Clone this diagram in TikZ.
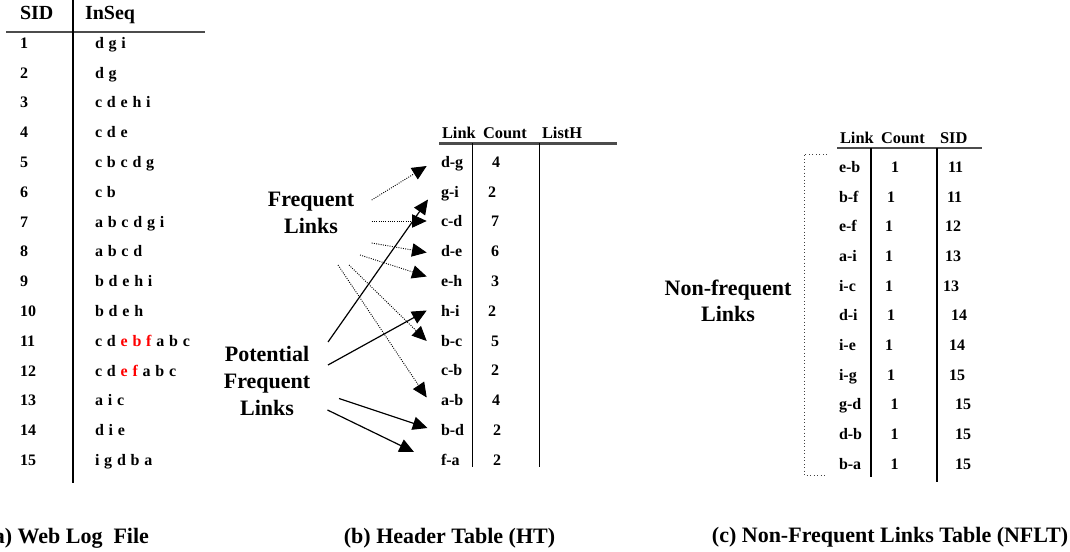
\documentclass[tikz,border=0pt]{standalone}
\usepackage{fontspec}
\setmainfont{Liberation Serif}
\usetikzlibrary{arrows.meta}
\newcommand{\wideseq}[1]{{\spaceskip=3.6pt plus 1pt\relax #1}}

\begin{document}
\begin{tikzpicture}[x=0.75pt,y=-0.75pt,
  every node/.style={inner sep=0pt, outer sep=0pt},
  cell/.style={anchor=west, font=\bfseries\fontsize{12}{14}\selectfont, text height=8pt, text depth=0pt},
  num/.style={anchor=center, font=\bfseries\fontsize{12}{14}\selectfont, text height=8pt, text depth=0pt},
  hdrA/.style={anchor=west, font=\bfseries\fontsize{15}{18}\selectfont, text height=10pt, text depth=0pt},
  hdr/.style={anchor=west, font=\bfseries\fontsize{12.3}{15}\selectfont, text height=8.3pt, text depth=0pt},
  label/.style={align=center, font=\bfseries\fontsize{16.5}{19.9}\selectfont},
  caption/.style={font=\bfseries\fontsize{16.5}{20}\selectfont, text height=11pt, text depth=0pt},
  rule/.style={line width=1.6pt, black!70},
  sep/.style={line width=1pt},
  tip/.style={-{Triangle[length=11pt,width=10pt]}},
  dotarrow/.style={tip, densely dotted, line width=0.7pt},
  solidarrow/.style={tip, line width=0.9pt},
  bracket/.style={dotted, line width=0.6pt, black!75}
]
\useasboundingbox (0,0) rectangle (1070,552);

% ---------- (a) web log file ----------
\node[hdrA] (hsid) at (20,13) {SID};
\node[hdrA] (hseq) at (85,13) {InSeq};
\draw[rule] (6,32) -- (205,32);
\draw[sep] (73,0) -- (73,483);
\foreach \s [count=\i] in {d g i, d g, c d e h i, c d e, c b c d g, c b, a b c d g i, a b c d,
    b d e h i, b d e h, {c d \textcolor{red}{e b f} a b c}, {c d \textcolor{red}{e f} a b c},
    a i c, d i e, i g d b a}{
  \node[cell] (sid\i) at (20,{43+29.8*(\i-1)}) {\i};
  \node[cell] (seq\i) at (95,{43+29.8*(\i-1)}) {\wideseq{\s}};
}
\node[caption, anchor=east] (capa) at (149,536) {(a) Web Log\ \ File};

% ---------- (b) header table ----------
\node[hdr] (hbl) at (442,133) {Link};
\node[hdr] (hbc) at (483,133) {Count};
\node[hdr] (hbh) at (542,133) {ListH};
\draw[rule] (439,143.5) -- (617,143.5);
\draw[sep] (472.5,143.5) -- (472.5,467);
\draw[sep] (539.5,143.5) -- (539.5,467);
\foreach \l/\c/\x [count=\i from 0] in {d-g/4/496, g-i/2/492, c-d/7/495, d-e/6/495, e-h/3/495,
    h-i/2/492, b-c/5/495, c-b/2/495, a-b/4/496, b-d/2/497, f-a/2/497}{
  \node[cell] (bl\i) at (441,{162+29.8*\i}) {\l};
  \node[num] (bc\i) at (\x,{162+29.8*\i}) {\c};
}
\node[caption] (capb) at (449.5,536) {(b) Header Table (HT)};

% labels and arrows into the header table
\node[label] (freq) at (311,213) {Frequent\\Links};
\node[label] (pot) at (267,381) {Potential\\Frequent\\Links};

\coordinate (fs1) at (371.7,200);   \coordinate (ft1) at (426.7,166);
\coordinate (fs2) at (371.7,221);   \coordinate (ft2) at (426.7,221);
\coordinate (fs3) at (371.7,243);   \coordinate (ft3) at (426.7,252.5);
\coordinate (fs4) at (360,255);     \coordinate (ft4) at (426.7,276.5);
\coordinate (fs5) at (349,265);     \coordinate (ft5) at (426.7,341);
\coordinate (fs6) at (338,265);     \coordinate (ft6) at (426.7,397.5);
\foreach \k in {1,...,6}{\draw[dotarrow] (fs\k) -- (ft\k);}

\coordinate (ps1) at (328,342);     \coordinate (pt1) at (428,199.5);
\coordinate (ps2) at (328,365);     \coordinate (pt2) at (426.7,310.5);
\coordinate (ps3) at (339,398.5);   \coordinate (pt3) at (427.5,428);
\coordinate (ps4) at (327.5,410);   \coordinate (pt4) at (414,452);
\foreach \k in {1,...,4}{\draw[solidarrow] (ps\k) -- (pt\k);}

% ---------- (c) non-frequent links table ----------
\node[label] (nonfreq) at (728,301) {Non-frequent\\Links};
\coordinate (bt) at (827,154); \coordinate (btl) at (804,154);
\coordinate (bbl) at (804,475); \coordinate (bb) at (827,475);
\draw[bracket] (bt) -- (btl) -- (bbl) -- (bb);

\node[hdr] (hcl) at (840,137.5) {Link};
\node[hdr] (hcc) at (881,137.5) {Count};
\node[hdr] (hcs) at (940,137.5) {SID};
\draw[rule] (837,148) -- (982,148);
\draw[sep] (871,148) -- (871,477);
\draw[sep] (937,148) -- (937,482);
\foreach \l/\x/\s/\sx [count=\i from 0] in {e-b/895/11/948, b-f/891/11/947, e-f/889/12/945,
    a-i/889/13/945, i-c/889/13/943, d-i/891/14/951, i-e/889/14/949, i-g/891/15/949,
    g-d/894.5/15/955, d-b/894.5/15/955, b-a/894.5/15/955}{
  \node[cell] (cl\i) at (839,{167+29.7*\i}) {\l};
  \node[num] (cc\i) at (\x,{167+29.7*\i}) {1};
  \node[cell] (cs\i) at (\sx,{167+29.7*\i}) {\s};
}
\node[caption] (capc) at (890,535) {(c) Non-Frequent Links Table (NFLT)};
\end{tikzpicture}
\end{document}
